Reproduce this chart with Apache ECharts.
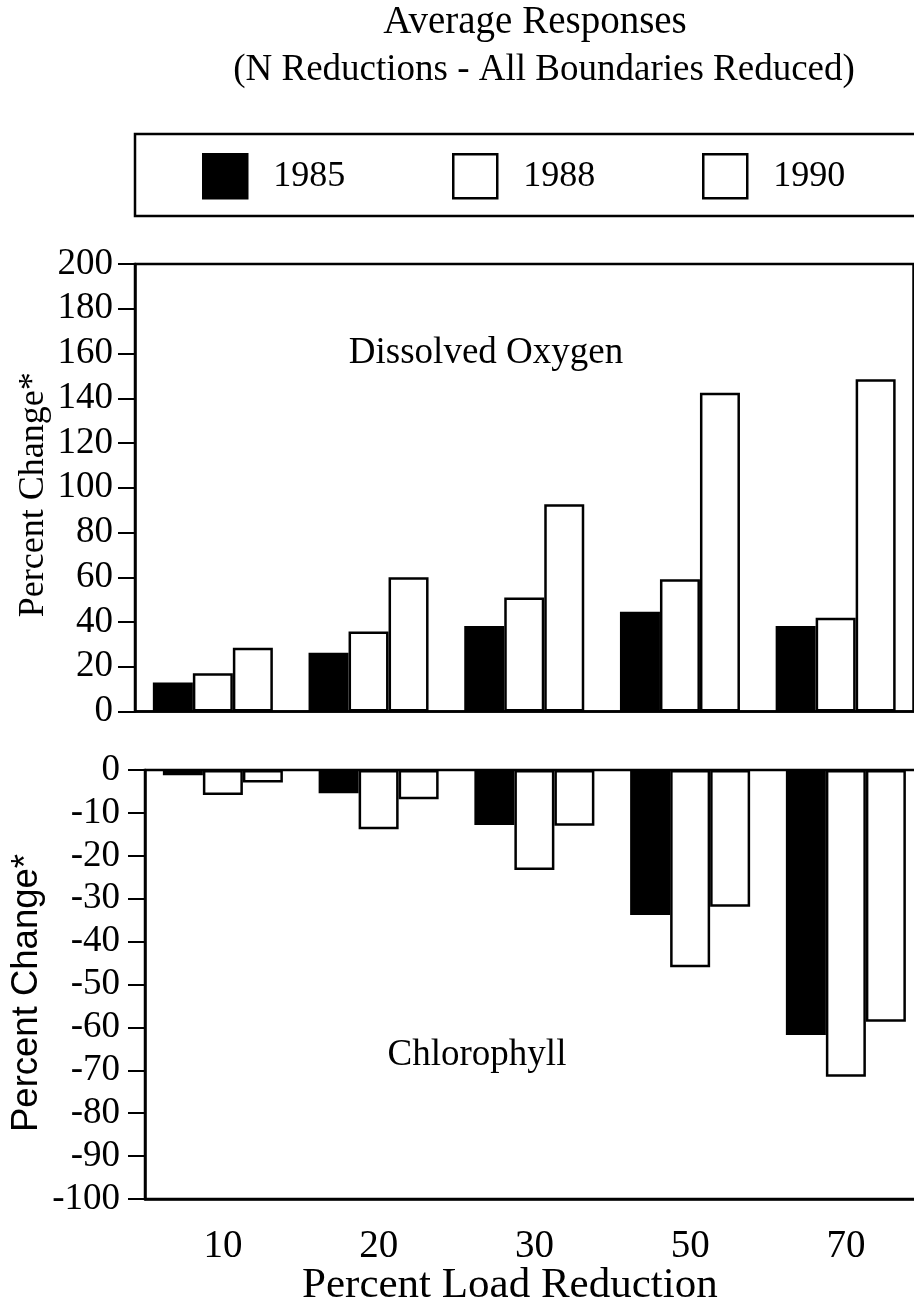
<!DOCTYPE html>
<html>
<head>
<meta charset="utf-8">
<script src="https://cdn.jsdelivr.net/npm/echarts@6/dist/echarts.min.js"></script>
<style>
html,body{margin:0;padding:0;background:#fff;}
#chart{width:914px;height:1302px;}
</style>
</head>
<body>
<div id="chart"></div>
<script>
// ---- data ----
const categories = ['10', '20', '30', '50', '70'];
const seriesNames = ['1985', '1988', '1990'];
const oxygen1985 = [13, 26.3, 38.2, 44.6, 38.2];
const oxygen1988 = [17.1, 35.7, 50.9, 59.1, 41.9];
const oxygen1990 = [28.5, 60, 92.6, 142.5, 148.5];
const chloro1985 = [-1.2, -5.4, -12.8, -33.8, -61.8];
const chloro1988 = [-5.8, -13.8, -23.3, -46, -71.5];
const chloro1990 = [-2.9, -6.8, -13, -31.9, -58.7];
const oxygenTicks = { min: 0, max: 200, interval: 20 };
const chloroTicks = { min: -100, max: 0, interval: 10 };

const SERIF = '"Liberation Serif", "Times New Roman", serif';
const SANS = '"Liberation Sans", Arial, sans-serif';
const fills = ['#000000', '#ffffff', '#ffffff'];

const chart = echarts.init(document.getElementById('chart'), null, { renderer: 'canvas' });

function barSeries(name, data, idx, gridIdx) {
  return {
    type: 'bar', name: name, data: data,
    xAxisIndex: gridIdx, yAxisIndex: gridIdx,
    barWidth: 40, barGap: '0%',
    itemStyle: { color: fills[idx], borderColor: '#000', borderWidth: 2.5 },
    emphasis: { disabled: true },
    animation: false
  };
}

function legendFor(i, left) {
  return {
    data: [seriesNames[i]],
    left: left, top: 153, padding: 0,
    itemWidth: 44, itemHeight: 44,
    icon: 'rect',
    selectedMode: false,
    itemStyle: { color: fills[i], borderColor: '#000', borderWidth: 2.5 },
    textStyle: { fontFamily: SERIF, fontSize: 36, color: '#000', padding: [0, 0, 0, 21] }
  };
}

const option = {
  animation: false,
  backgroundColor: '#fff',
  legend: [legendFor(0, 202), legendFor(1, 452), legendFor(2, 702)],
  grid: [
    { left: 135, top: 264, width: 778.5, height: 447.5, show: true, borderColor: '#000', borderWidth: 2.5, containLabel: false, outerBoundsMode: 'none' },
    { left: 145, top: 770, width: 778.75, height: 429, show: true, borderColor: '#000', borderWidth: 2.5, containLabel: false, outerBoundsMode: 'none' }
  ],
  xAxis: [
    { type: 'category', gridIndex: 0, data: categories, boundaryGap: true,
      axisLine: { lineStyle: { color: '#000', width: 2.5 } },
      axisTick: { show: false }, axisLabel: { show: false }, splitLine: { show: false } },
    { type: 'category', gridIndex: 1, data: categories, boundaryGap: true, position: 'bottom',
      axisLine: { onZero: false, lineStyle: { color: '#000', width: 2.5 } },
      axisTick: { show: false },
      axisLabel: { fontFamily: SERIF, fontSize: 39, color: '#000', margin: 28 },
      splitLine: { show: false },
      name: 'Percent Load Reduction', nameLocation: 'middle', nameGap: 65, nameMoveOverlap: false,
      nameTextStyle: { fontFamily: SERIF, fontSize: 43, color: '#000', padding: [0, 49, 0, 0] } }
  ],
  yAxis: [
    { type: 'value', gridIndex: 0, min: oxygenTicks.min, max: oxygenTicks.max, interval: oxygenTicks.interval,
      axisLine: { show: true, lineStyle: { color: '#000', width: 2.5 } },
      axisTick: { show: true, inside: false, length: 17, lineStyle: { color: '#000', width: 2 } },
      axisLabel: { fontFamily: SERIF, fontSize: 37, color: '#000', margin: 22 },
      splitLine: { show: false },
      name: 'Percent Change*', nameLocation: 'middle', nameGap: 83, nameRotate: 90, nameMoveOverlap: false,
      nameTextStyle: { fontFamily: SERIF, fontSize: 36, color: '#000', padding: [0, 14, 0, 0] } },
    { type: 'value', gridIndex: 1, min: chloroTicks.min, max: chloroTicks.max, interval: chloroTicks.interval,
      axisLine: { show: true, lineStyle: { color: '#000', width: 2.5 } },
      axisTick: { show: true, inside: false, length: 17, lineStyle: { color: '#000', width: 2 } },
      axisLabel: { fontFamily: SERIF, fontSize: 37, color: '#000', margin: 25 },
      splitLine: { show: false },
      name: 'Percent Change*', nameLocation: 'middle', nameGap: 100, nameRotate: 90, nameMoveOverlap: false,
      nameTextStyle: { fontFamily: SANS, fontSize: 36.5, color: '#000', padding: [0, 17, 0, 0] } }
  ],
  series: [
    barSeries(seriesNames[0], oxygen1985, 0, 0),
    barSeries(seriesNames[1], oxygen1988, 1, 0),
    barSeries(seriesNames[2], oxygen1990, 2, 0),
    barSeries(seriesNames[0], chloro1985, 0, 1),
    barSeries(seriesNames[1], chloro1988, 1, 1),
    barSeries(seriesNames[2], chloro1990, 2, 1)
  ],
  graphic: [
    { type: 'text', style: { text: 'Average Responses', x: 535, y: 23, font: '39px ' + SERIF, fill: '#000', align: 'center', verticalAlign: 'middle' } },
    { type: 'text', style: { text: '(N Reductions - All Boundaries Reduced)', x: 544, y: 70, font: '37px ' + SERIF, fill: '#000', align: 'center', verticalAlign: 'middle' } },
    { type: 'rect', shape: { x: 135, y: 134, width: 820, height: 82 }, style: { fill: 'none', stroke: '#000', lineWidth: 2.5 }, z: 10 },
    { type: 'text', style: { text: 'Dissolved Oxygen', x: 486, y: 353, font: '37px ' + SERIF, fill: '#000', align: 'center', verticalAlign: 'middle' }, z: 10 },
    { type: 'text', style: { text: 'Chlorophyll', x: 477, y: 1055, font: '37px ' + SERIF, fill: '#000', align: 'center', verticalAlign: 'middle' }, z: 10 }
  ]
};
chart.setOption(option);
</script>
</body>
</html>
